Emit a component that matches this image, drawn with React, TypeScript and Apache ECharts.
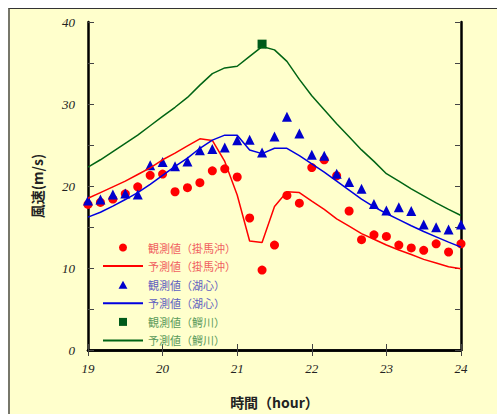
import React, { useEffect, useRef } from "react";
import * as echarts from "echarts";

// minutes after 19:00 (10-minute steps)
const minutes = [0, 10, 20, 30, 40, 50, 60, 70, 80, 90, 100, 110, 120, 130, 140, 150, 160, 170, 180, 190, 200, 210, 220, 230, 240, 250, 260, 270, 280, 290, 300];

const obsKake = [17.75, 18.0, 18.4, 19.05, 19.9, 21.3, 21.45, 19.3, 19.8, 20.4, 21.85, 22.1, 21.1, 16.1, 9.75, 12.8, 18.85, 17.9, 22.25, 23.2, 21.25, 16.95, 13.45, 14.05, 13.85, 12.8, 12.45, 12.15, 12.95, 11.95, 12.95];
const predKake = [18.5, 19.2, 19.9, 20.6, 21.4, 22.2, 23.2, 24.0, 24.9, 25.75, 25.55, 23.0, 18.9, 13.3, 13.1, 17.5, 19.3, 19.2, 18.15, 17.15, 16.0, 15.1, 14.2, 13.5, 12.8, 12.2, 11.65, 11.05, 10.6, 10.15, 9.9];
const obsKoshin = [18.24, 18.36, 18.97, 19.09, 18.97, 22.53, 22.94, 22.4, 23.0, 24.35, 24.5, 24.7, 25.57, 25.65, 24.1, 26.05, 28.45, 26.4, 23.8, 23.7, 21.5, 20.5, 19.65, 17.8, 17.0, 17.4, 16.94, 15.3, 14.97, 14.7, 15.3];
const predKoshin = [16.2, 16.8, 17.55, 18.35, 19.2, 20.2, 21.3, 22.4, 23.4, 24.6, 25.6, 26.2, 26.2, 24.4, 23.95, 24.6, 24.6, 23.7, 22.7, 21.7, 20.6, 19.5, 18.4, 17.45, 16.65, 15.9, 15.15, 14.45, 13.8, 13.15, 12.55];
const predWani = [22.3, 23.2, 24.2, 25.2, 26.2, 27.35, 28.5, 29.6, 30.8, 32.3, 33.7, 34.4, 34.6, 35.8, 37.0, 36.6, 35.2, 33.0, 31.0, 29.3, 27.6, 26.0, 24.4, 23.0, 21.5, 20.6, 19.65, 18.8, 17.95, 17.15, 16.4];
const obsWaniMinutes = [140];
const obsWani = [37.3];

const seriesNames = [
  "観測値（掛馬沖）",
  "予測値（掛馬沖）",
  "観測値（湖心）",
  "予測値（湖心）",
  "観測値（鰐川）",
  "予測値（鰐川）",
];
const legendTextColors = ["#f06060", "#f06060", "#6060c0", "#6060c0", "#5a9a5a", "#5a9a5a"];
const LINE_ICON = "path://M0,0h40v2h-40z";
const TRI_ICON = "path://M5,0L10,9L0,9Z";
const SQ_ICON = "path://M0,0h10v10h-10z";
const legendIcons = ["circle", LINE_ICON, TRI_ICON, LINE_ICON, SQ_ICON, LINE_ICON];

const toPairs = (mins: number[], vals: number[]) => mins.map((m, i) => [19 + m / 60, vals[i]]);

export default function App() {
  const ref = useRef<HTMLDivElement>(null);
  useEffect(() => {
    if (!ref.current) return;
    const chart = echarts.init(ref.current, undefined, { renderer: "svg" });
    const tickLabel = {
      fontFamily: "Liberation Serif",
      fontStyle: "italic" as const,
      fontSize: 13,
      color: "#222",
    };
    const axisLine = { show: true, lineStyle: { color: "#000", width: 2.5 } };
    const axisTick = { show: true, inside: true, length: 6, lineStyle: { color: "#444", width: 1 } };
    chart.setOption({
      animation: false,
      backgroundColor: "transparent",
      grid: { left: 88, right: 36, top: 22, bottom: 63, containLabel: false },
      legend: {
        orient: "vertical",
        left: 98,
        top: 237,
        padding: 5,
        itemWidth: 40,
        itemHeight: 8,
        itemGap: 7.6,
        symbolKeepAspect: true,
        textStyle: { fontFamily: "Noto Sans CJK JP", fontSize: 11 },
        data: seriesNames.map((n, i) => ({
          name: n,
          icon: legendIcons[i],
          textStyle: { color: legendTextColors[i] },
        })),
      },
      xAxis: [
        {
          type: "value",
          min: 19,
          max: 24,
          interval: 1,
          position: "bottom",
          name: "時間（hour）",
          nameLocation: "middle",
          nameGap: 45,
          nameTextStyle: { fontFamily: "Noto Sans CJK JP", fontSize: 14, fontWeight: "bold", color: "#222" },
          axisLine,
          axisTick,
          axisLabel: { ...tickLabel, margin: 12 },
          splitLine: { show: false },
        },
        {
          type: "value",
          min: 19,
          max: 24,
          interval: 1,
          position: "top",
          axisLine,
          axisTick,
          axisLabel: { show: false },
          splitLine: { show: false },
        },
      ],
      yAxis: [
        {
          type: "value",
          min: 0,
          max: 40,
          interval: 5,
          position: "left",
          name: "風速(m/s)",
          nameLocation: "middle",
          nameGap: 44,
          nameTextStyle: { fontFamily: "Noto Sans CJK JP", fontSize: 14, fontWeight: "bold", color: "#222" },
          axisLine,
          axisTick,
          axisLabel: { ...tickLabel, margin: 13, formatter: (v: number) => (v % 10 === 0 ? String(v) : "") },
          splitLine: { show: false },
        },
        {
          type: "value",
          min: 0,
          max: 40,
          interval: 5,
          position: "right",
          axisLine,
          axisTick,
          axisLabel: { show: false },
          splitLine: { show: false },
        },
      ],
      series: [
        {
          name: seriesNames[5],
          type: "line",
          data: toPairs(minutes, predWani),
          symbol: "none",
          lineStyle: { color: "#006414", width: 1.5 },
          itemStyle: { color: "#006414" },
        },
        {
          name: seriesNames[1],
          type: "line",
          data: toPairs(minutes, predKake),
          symbol: "none",
          lineStyle: { color: "#ff0000", width: 1.5 },
          itemStyle: { color: "#ff0000" },
        },
        {
          name: seriesNames[3],
          type: "line",
          data: toPairs(minutes, predKoshin),
          symbol: "none",
          lineStyle: { color: "#0000e0", width: 1.5 },
          itemStyle: { color: "#0000e0" },
        },
        {
          name: seriesNames[0],
          type: "scatter",
          data: toPairs(minutes, obsKake),
          symbol: "circle",
          symbolSize: 9,
          itemStyle: { color: "#ff0000", opacity: 1 },
        },
        {
          name: seriesNames[2],
          type: "scatter",
          data: toPairs(minutes, obsKoshin),
          symbol: "triangle",
          symbolSize: 10,
          itemStyle: { color: "#0000cc", opacity: 1 },
        },
        {
          name: seriesNames[4],
          type: "scatter",
          data: toPairs(obsWaniMinutes, obsWani),
          symbol: "rect",
          symbolSize: 9,
          itemStyle: { color: "#005a1a", opacity: 1 },
        },
      ],
    });
    return () => chart.dispose();
  }, []);
  return (
    <>
      <div
        style={{
          position: "fixed",
          left: 8,
          top: 8,
          width: 489,
          height: 406,
          background: "#FFFFCC",
          borderTop: "1px solid #333",
          borderLeft: "2px solid #77776a",
          boxSizing: "border-box",
        }}
      />
      <div ref={ref} style={{ position: "fixed", left: 0, top: 0, width: 497, height: 414 }} />
    </>
  );
}
